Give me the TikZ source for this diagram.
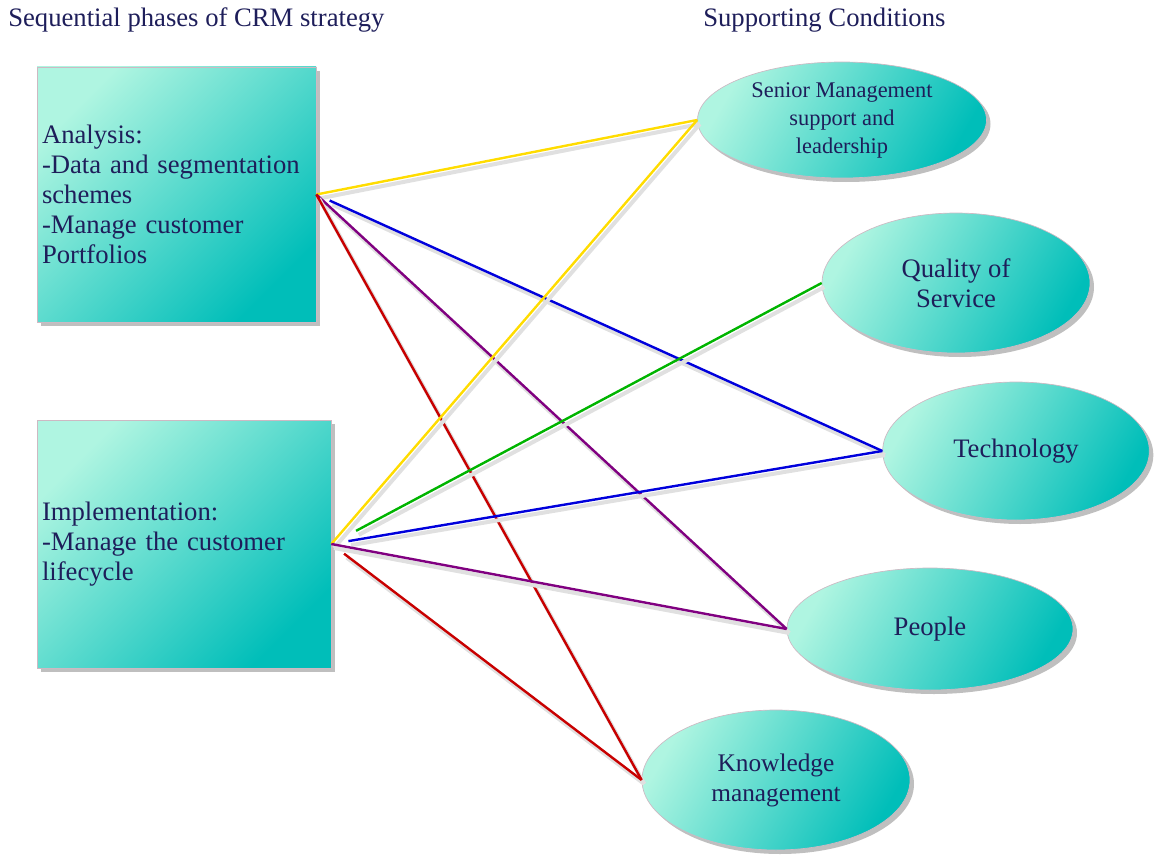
\documentclass[tikz,border=0pt]{standalone}
\usepackage{fontspec}
\setmainfont{Liberation Serif}
\usetikzlibrary{shapes.geometric, shadows}
\definecolor{navy}{RGB}{30,30,90}
\definecolor{mint}{RGB}{175,245,225}
\definecolor{seateal}{RGB}{0,190,185}
\definecolor{rim}{RGB}{205,185,195}
\definecolor{yline}{RGB}{255,220,0}
\definecolor{bline}{RGB}{0,0,220}
\definecolor{pline}{RGB}{128,0,128}
\definecolor{rline}{RGB}{200,0,0}
\definecolor{gline}{RGB}{0,180,0}
\tikzstyle{phase} = [rectangle, draw=rim, line width=0.5pt, top color=mint, bottom color=seateal, shading angle=45, drop shadow={shadow xshift=3pt, shadow yshift=-3pt, opacity=0.25, fill=black}, text=navy, align=left, inner sep=3.75pt, font=\fontsize{20}{22.5}\selectfont]
\tikzstyle{condition} = [ellipse, draw=rim, line width=0.5pt, top color=mint, bottom color=seateal, shading angle=60, drop shadow={shadow xshift=3pt, shadow yshift=-3pt, opacity=0.25, fill=black}, text=navy, align=center, inner sep=0pt, font=\fontsize{20}{22.5}\selectfont]
\tikzstyle{head} = [anchor=west, inner sep=0pt, text=navy, font=\fontsize{20}{22.5}\selectfont]
\tikzstyle{link} = [line width=1.8pt, preaction={draw=black!12, line width=3pt, transform canvas={shift={(2pt,-3pt)}}}]

\begin{document}
\begin{tikzpicture}[x=0.75pt, y=-0.75pt]
            \useasboundingbox (0,0) rectangle (1154,856);
            \node (lhead) [head] at (8,20) {Sequential phases of CRM strategy};
            \node (rhead) [head] at (703,20) {Supporting Conditions};

            \node (ana) [phase, minimum width=209.25pt, minimum height=191.25pt, text width=201.75pt] at (176.5,194.5) {Analysis:\\-Data and segmentation\\schemes\\-Manage customer\\Portfolios};
            \node (impl) [phase, minimum width=220.5pt, minimum height=186pt, text width=213pt] at (184,544) {Implementation:\\-Manage the customer\\lifecycle};

            \node (sen) [condition, minimum width=216.75pt, minimum height=87pt, font=\fontsize{16.8}{21}\selectfont] at (842,120) {Senior Management\\support and\\leadership};
            \node (qos) [condition, minimum width=201pt, minimum height=105pt] at (956,283) {Quality of\\Service};
            \node (tech) [condition, minimum width=200pt, minimum height=103.5pt] at (1016,451) {Technology};
            \node (ppl) [condition, minimum width=214.5pt, minimum height=91.5pt] at (930,629) {People};
            \node (know) [condition, minimum width=201pt, minimum height=105pt, font=\fontsize{19}{22.5}\selectfont] at (776,780) {Knowledge\\management};

            % analysis links
            \draw [link, yline] (ana.east) -- (sen.west);
            \draw [link, bline, shorten <=11pt] (ana.east) -- (tech.west);
            \draw [link, pline] (ana.east) -- (ppl.west);
            \draw [link, rline] (ana.east) -- (know.west);
            % implementation links
            \draw [link, yline] (impl.east) -- (sen.west);
            \draw [link, gline, shorten <=21pt] (impl.east) -- (qos.west);
            \draw [link, bline, shorten <=13pt] (impl.east) -- (tech.west);
            \draw [link, pline] (impl.east) -- (ppl.west);
            \draw [link, rline, shorten <=12pt] (impl.east) -- (know.west);
\end{tikzpicture}
\end{document}
